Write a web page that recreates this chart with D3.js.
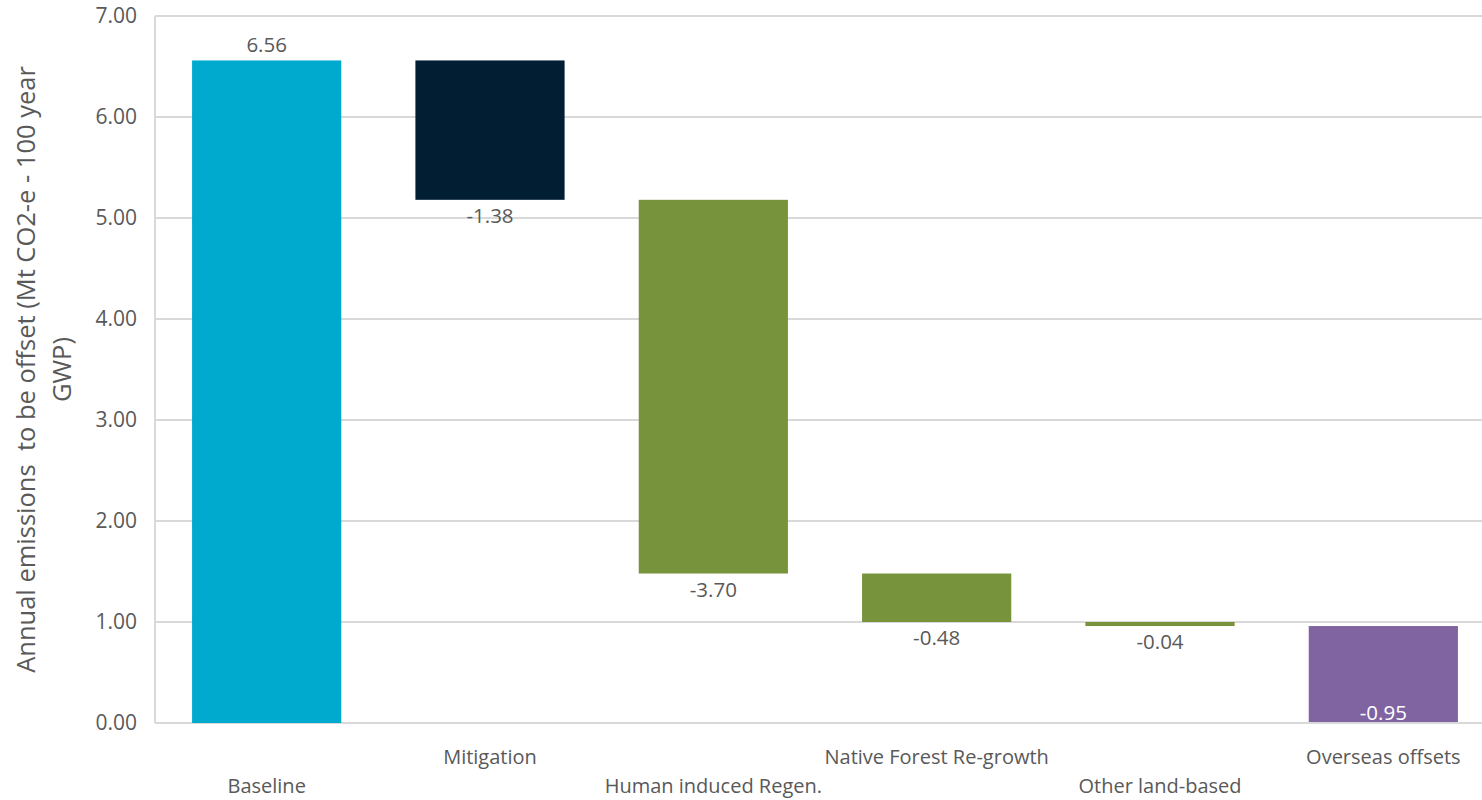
<!DOCTYPE html>
<html>
<head>
<meta charset="utf-8">
<script src="https://cdn.jsdelivr.net/npm/d3@7"></script>
<style>
  html, body { margin: 0; padding: 0; background: #fff; }
  svg { display: block; font-family: "Open Sans", "Noto Sans", sans-serif; }
</style>
</head>
<body>
<svg id="chart" width="1482" height="800"></svg>
<script>
// Waterfall of annual emissions to be offset
const categories = ["Baseline", "Mitigation", "Human induced Regen.", "Native Forest Re-growth", "Other land-based", "Overseas offsets"];
const values = [6.56, -1.38, -3.70, -0.48, -0.04, -0.95];
const colors = ["#00A9CE", "#021E33", "#77933C", "#77933C", "#77933C", "#8064A2"];
const yTicks = [0, 1, 2, 3, 4, 5, 6, 7];
const yTitleLines = ["Annual emissions  to be offset (Mt CO2-e - 100 year", "GWP)"];

const svg = d3.select("#chart");
const plotLeft = 155, plotRight = 1495, plotTop = 16, plotBottom = 723;
const textColor = "#595959";

// plain hyphen for negative numbers
const locale = d3.formatLocale({ decimal: ".", thousands: ",", grouping: [3], currency: ["", ""], minus: "-" });
const fmt = locale.format(".2f");

// running totals give each step's start and end
let running = 0;
const steps = values.map((v, i) => {
  const start = i === 0 ? 0 : running;
  const end = i === 0 ? v : running + v;
  running = end;
  return { cat: categories[i], value: v, start, end, color: colors[i], i };
});

const x = d3.scaleBand().domain(categories).range([plotLeft, plotRight]).paddingInner(0.332).paddingOuter(0.166);
const y = d3.scaleLinear().domain([0, 7]).range([plotBottom, plotTop]);

// gridlines
svg.append("g").selectAll("line").data(yTicks).join("line")
  .attr("x1", plotLeft).attr("x2", 1482)
  .attr("y1", d => y(d)).attr("y2", d => y(d))
  .attr("stroke", "#d9d9d9").attr("stroke-width", 2);

// left axis line
svg.append("line").attr("x1", plotLeft).attr("x2", plotLeft).attr("y1", plotTop).attr("y2", plotBottom)
  .attr("stroke", "#d9d9d9").attr("stroke-width", 2);

// y tick labels
const yAxis = d3.axisLeft(y).tickValues(yTicks).tickFormat(fmt).tickSize(0).tickPadding(18);
const gy = svg.append("g").attr("transform", `translate(${plotLeft},0)`).call(yAxis);
gy.select(".domain").remove();
gy.selectAll("text").attr("font-size", 21).attr("fill", textColor).attr("font-family", "'Open Sans', sans-serif");

// bars
svg.append("g").selectAll("rect").data(steps).join("rect")
  .attr("x", d => x(d.cat))
  .attr("width", x.bandwidth())
  .attr("y", d => y(Math.max(d.start, d.end)))
  .attr("height", d => Math.abs(y(d.start) - y(d.end)))
  .attr("fill", d => d.color);

// value labels; a label that would fall below the axis goes inside its bar
const insideBar = d => d.value < 0 && y(Math.min(d.start, d.end)) + 24 > plotBottom;
svg.append("g").selectAll("text").data(steps).join("text")
  .attr("x", d => x(d.cat) + x.bandwidth() / 2)
  .attr("y", d => {
    if (d.value >= 0) return y(d.end) - 8;
    if (insideBar(d)) return y(Math.min(d.start, d.end)) - 2;
    return y(Math.min(d.start, d.end)) + 23;
  })
  .attr("text-anchor", "middle")
  .attr("font-size", 20.5)
  .attr("fill", d => insideBar(d) ? "#ffffff" : textColor)
  .text(d => fmt(d.value));

// category labels, staggered on two rows
svg.append("g").selectAll("text").data(steps).join("text")
  .attr("x", d => x(d.cat) + x.bandwidth() / 2)
  .attr("y", d => d.i % 2 === 0 ? 793 : 764)
  .attr("text-anchor", "middle")
  .attr("font-size", 20)
  .attr("fill", textColor)
  .text(d => d.cat);

// y axis title
const title = svg.append("text")
  .attr("transform", `translate(0,${(plotTop + plotBottom) / 2}) rotate(-90)`)
  .attr("text-anchor", "middle")
  .attr("font-size", 25.5)
  .attr("fill", textColor)
  .style("white-space", "pre");
title.selectAll("tspan").data(yTitleLines).join("tspan")
  .attr("x", 0)
  .attr("y", (d, i) => 35 + i * 36)
  .text(d => d);
</script>
</body>
</html>
